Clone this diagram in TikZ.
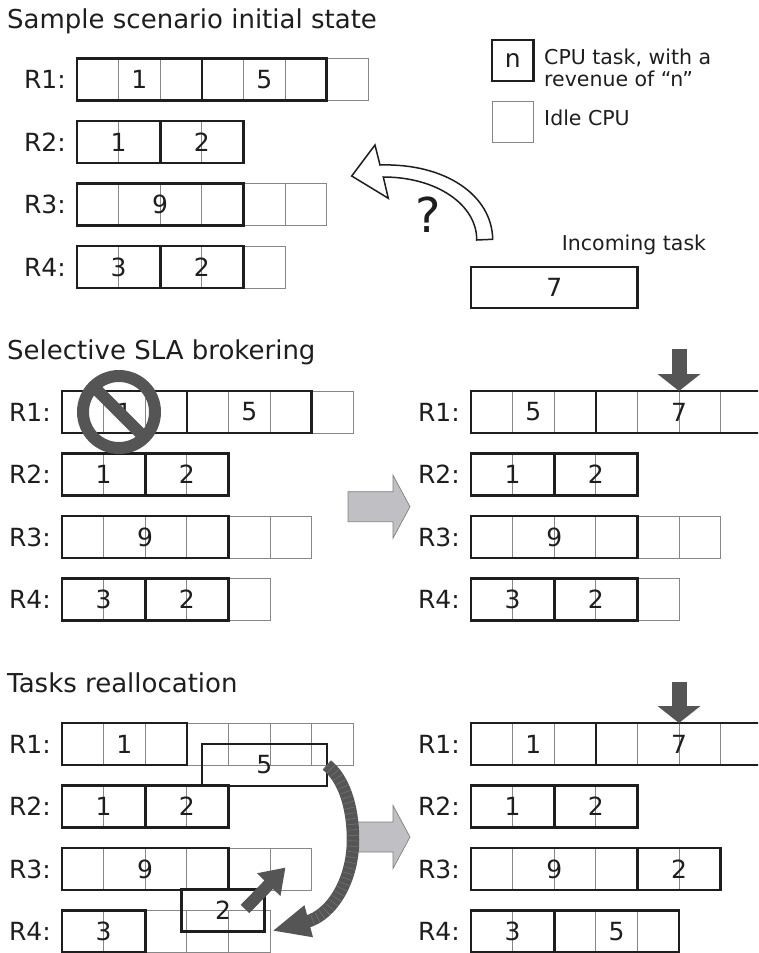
\documentclass[tikz,border=0pt]{standalone}
\usepackage{fontspec}
\setmainfont{DejaVu Sans}
\usetikzlibrary{arrows.meta}
\definecolor{ink}{RGB}{30,30,30}
\definecolor{dgray}{RGB}{85,85,85}
\definecolor{thingray}{RGB}{135,135,135}
\definecolor{blockgray}{RGB}{192,192,196}
\definecolor{stripe}{RGB}{118,118,118}
\tikzset{
  taskbox/.style={draw=ink, text=ink, line width=2.6pt, minimum height=42, inner sep=0pt, outer sep=0pt, font=\fontsize{25}{25}\selectfont},
  cellline/.style={draw=thingray, line width=0.9pt},
  rlabel/.style={anchor=base east, text=ink, inner sep=0pt, font=\fontsize{25}{25}\selectfont},
  titletext/.style={anchor=base west, text=ink, inner sep=0pt, font=\fontsize{26}{26}\selectfont},
  legtext/.style={anchor=base west, text=ink, inner sep=0pt, font=\fontsize{20.5}{20.5}\selectfont},
  darr/.style={draw=dgray, line width=15pt, -{Triangle[length=17pt,width=42pt]}},
  movarr/.style={draw=dgray, line width=12pt, -{Triangle[length=24pt,width=31pt]}},
  blockarr/.style={fill=blockgray, draw=gray, line width=0.7pt},
}
\newcommand\cw{41.6}
\newcommand\chh{42}
% task: name, x, y, ncells, label
\newcommand\tsk[5]{%
  \pgfmathtruncatemacro\tskn{#4-1}%
  \foreach \i in {1,...,\tskn}{\draw[cellline] ({#2+\i*\cw},#3) -- ++(0,\chh);}%
  \node[taskbox, minimum width={#4*\cw}, anchor=north west] (#1) at (#2,#3) {#5};%
}
% idle cells: x, y, n
\newcommand\idl[3]{%
  \foreach \i in {1,...,#3}{\draw[cellline] ({#1+(\i-1)*\cw},#2) rectangle ++(\cw,\chh);}%
}
% row label: name, x0, y0, text
\newcommand\rl[4]{\node[rlabel] (#1) at (#2-11,#3+30) {#4};}
% block arrow: y center
\newcommand\blockarrow[1]{%
  \filldraw[blockarr] (348,#1-15) -- (393,#1-15) -- (393,#1-31.5) -- (410,#1) -- (393,#1+31.5) -- (393,#1+15) -- (348,#1+15) -- cycle;%
}
\begin{document}
\begin{tikzpicture}[x=1pt,y=-1pt]
\useasboundingbox (0,0) rectangle (758,953);
\clip (0,0) rectangle (758,953);

% ---------- titles
\node[titletext] (t1) at (7,28) {Sample scenario initial state};
\node[titletext] (t2) at (7,359) {Selective SLA brokering};
\node[titletext] (t3) at (7,692) {Tasks reallocation};

% ---------- top panel
\rl{aL1}{77}{58.5}{R1:}
\idl{326.6}{58.5}{1}
\tsk{a11}{77}{58.5}{3}{1}
\tsk{a15}{201.8}{58.5}{3}{5}
\rl{aL2}{77}{121}{R2:}
\tsk{a21}{77}{121}{2}{1}
\tsk{a22}{160.2}{121}{2}{2}
\rl{aL3}{77}{183.5}{R3:}
\idl{243.4}{183.5}{2}
\tsk{a39}{77}{183.5}{4}{9}
\rl{aL4}{77}{246}{R4:}
\idl{243.4}{246}{1}
\tsk{a43}{77}{246}{2}{3}
\tsk{a42}{160.2}{246}{2}{2}

% legend
\node[taskbox, minimum width=41.6, minimum height=41, anchor=north west] (legn) at (492,40) {n};
\node[legtext] (legt1) at (544,64) {CPU task, with a};
\node[legtext] (legt2) at (544,86.5) {revenue of “n”};
\draw[cellline] (492,101) rectangle ++(41.6,41);
\node[legtext] (legi) at (544,125.5) {Idle CPU};

% incoming task
\node[legtext, anchor=base] (inct) at (634,250.5) {Incoming task};
\node[taskbox, minimum width=166.4, minimum height=41, anchor=north west] (inc) at (471,267) {7};
\node[text=ink, inner sep=0pt, font=\fontsize{48}{48}\selectfont] (qm) at (428,215) {?};
\draw[draw=ink, fill=white, line width=1.5pt, line join=miter]
  (492.7,239.3) .. controls (492,195) and (445,163) .. (380,165)
  -- (375,145) -- (351.7,176) -- (388.3,198.3) -- (383.3,177)
  .. controls (437,177) and (477,205) .. (476.7,240) -- cycle;

% ---------- middle panel, left
\rl{bL1}{62}{391}{R1:}
\idl{311.6}{391}{1}
\tsk{b11}{62}{391}{3}{1}
\tsk{b15}{186.8}{391}{3}{5}
\rl{bL2}{62}{453.5}{R2:}
\tsk{b21}{62}{453.5}{2}{1}
\tsk{b22}{145.2}{453.5}{2}{2}
\rl{bL3}{62}{516}{R3:}
\idl{228.4}{516}{2}
\tsk{b39}{62}{516}{4}{9}
\rl{bL4}{62}{578.5}{R4:}
\idl{228.4}{578.5}{1}
\tsk{b43}{62}{578.5}{2}{3}
\tsk{b42}{145.2}{578.5}{2}{2}
% prohibition sign
\draw[dgray, line width=12pt] (119,412) circle[radius=36];
\draw[dgray, line width=12pt] (119,412) ++(-26,-26) -- ++(52,52);

\blockarrow{506.7}

% ---------- middle panel, right
\rl{cL1}{471}{391}{R1:}
\tsk{c15}{471}{391}{3}{5}
\tsk{c17}{595.8}{391}{4}{7}
\rl{cL2}{471}{453.5}{R2:}
\tsk{c21}{471}{453.5}{2}{1}
\tsk{c22}{554.2}{453.5}{2}{2}
\rl{cL3}{471}{516}{R3:}
\idl{637.4}{516}{2}
\tsk{c39}{471}{516}{4}{9}
\rl{cL4}{471}{578.5}{R4:}
\idl{637.4}{578.5}{1}
\tsk{c43}{471}{578.5}{2}{3}
\tsk{c42}{554.2}{578.5}{2}{2}
\coordinate (cdrop) at (679,349);
\draw[darr] (cdrop) -- (c17.north);

% ---------- bottom panel, left
\rl{dL1}{62}{723}{R1:}
\idl{186.8}{723}{4}
\tsk{d11}{62}{723}{3}{1}
\rl{dL2}{62}{785.5}{R2:}
\tsk{d21}{62}{785.5}{2}{1}
\tsk{d22}{145.2}{785.5}{2}{2}
\rl{dL3}{62}{848}{R3:}
\idl{228.4}{848}{2}
\tsk{d39}{62}{848}{4}{9}
\rl{dL4}{62}{910.5}{R4:}
\idl{145.2}{910.5}{3}
\tsk{d43}{62}{910.5}{2}{3}
% moved tasks
\node[taskbox, minimum width=124.8, anchor=north west] (d5m) at (202,744) {5};
\node[taskbox, minimum width=83.2, anchor=north west] (d2m) at (181.5,889.5) {2};

\blockarrow{837}

% move arrows
\coordinate (d2from) at (245,909);
\coordinate (d2to) at (285.5,867.5);
\draw[movarr] (d2from) -- (d2to);
\coordinate (d5bend) at (353,840);
\coordinate (d5to) at (272,931);
\draw[draw=dgray, line width=12.5pt, -{Triangle[length=38pt,width=30pt]}]
  (d5m.east) .. controls (343,778) and (353,805) .. (d5bend)
  .. controls (353,880) and (332,915) .. (d5to);
\draw[draw=stripe, line width=11pt, dash pattern=on 0.5pt off 5pt, shorten >=40pt]
  (d5m.east) .. controls (343,778) and (353,805) .. (d5bend)
  .. controls (353,880) and (332,915) .. (d5to);

% ---------- bottom panel, right
\rl{eL1}{471}{723}{R1:}
\tsk{e11}{471}{723}{3}{1}
\tsk{e17}{595.8}{723}{4}{7}
\rl{eL2}{471}{785.5}{R2:}
\tsk{e21}{471}{785.5}{2}{1}
\tsk{e22}{554.2}{785.5}{2}{2}
\rl{eL3}{471}{848}{R3:}
\tsk{e39}{471}{848}{4}{9}
\tsk{e32}{637.4}{848}{2}{2}
\rl{eL4}{471}{910.5}{R4:}
\tsk{e43}{471}{910.5}{2}{3}
\tsk{e45}{554.2}{910.5}{3}{5}
\coordinate (edrop) at (679,682);
\draw[darr] (edrop) -- (e17.north);
\end{tikzpicture}
\end{document}
